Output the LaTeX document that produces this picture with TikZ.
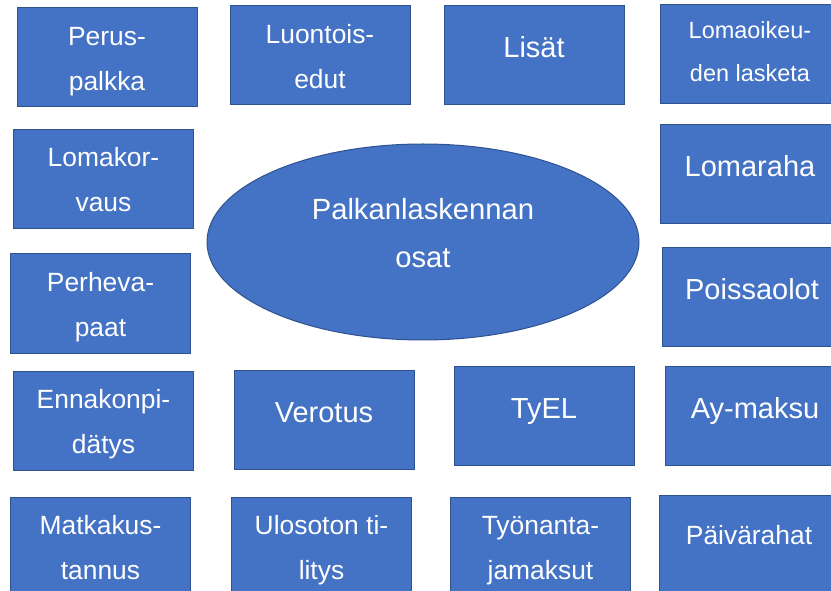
\documentclass[tikz,border=0pt]{standalone}
\usepackage{fontspec}
\setmainfont{Liberation Sans}
\usepackage{xcolor}
\usepackage{tikz}
\usetikzlibrary{shapes.geometric}
\definecolor{partblue}{HTML}{4472C4}
\definecolor{partedge}{HTML}{2F528F}
\tikzstyle{part} = [rectangle, minimum width=135pt, minimum height=74.25pt, align=center, draw=partedge, fill=partblue, line width=0.75pt, text=white]
\tikzstyle{twoline} = [part, font=\fontsize{19.8pt}{33.75pt}\selectfont, text height=50pt, text depth=0.5pt]
\tikzstyle{oneline} = [part, font=\fontsize{21.75pt}{26pt}\selectfont, text height=16pt, text depth=12.25pt]
\tikzstyle{hub} = [ellipse, minimum width=324pt, minimum height=147pt, align=center, draw=partedge, fill=partblue, line width=0.75pt, text=white, font=\fontsize{21.9pt}{36pt}\selectfont, text height=40pt, text depth=1pt]

\begin{document}
\begin{tikzpicture}[x=0.75pt, y=-0.75pt]
    \useasboundingbox (0,0) rectangle (831,591);
    \clip (0,0) rectangle (831,591);

    % top row
    \node[twoline] (perus) at (107,57.5) {Perus-\\palkka};
    \node[twoline] (luontois) at (320,55.5) {Luontois-\\edut};
    \node[oneline] (lisat) at (534,55) {Lisät};
    \node[twoline, font=\fontsize{17.6pt}{32.25pt}\selectfont, text height=40pt, text depth=0.2pt] (lomaoikeus) at (750,54.5) {Lomaoikeu-\\den lasketa};

    % middle
    \node[twoline] (lomakorvaus) at (103.5,179) {Lomakor-\\vaus};
    \node[oneline] (lomaraha) at (750,174.5) {Lomaraha};
    \node[hub] (osat) at (423,242) {Palkanlaskennan\\osat};
    \node[twoline] (perhevapaat) at (100.5,303.5) {Perheva-\\paat};
    \node[oneline] (poissaolot) at (752,297.5) {Poissaolot};

    % lower rows
    \node[twoline] (ennakko) at (103.5,420.5) {Ennakonpi-\\dätys};
    \node[oneline] (verotus) at (324,420) {Verotus};
    \node[oneline] (tyel) at (544,415.5) {TyEL};
    \node[oneline] (aymaksu) at (755,415.5) {Ay-maksu};
    \node[twoline] (matka) at (100.5,546.5) {Matkakus-\\tannus};
    \node[twoline] (ulosotto) at (321.5,546.5) {Ulosoton ti-\\litys};
    \node[twoline] (tyonantaja) at (540.5,546.5) {Työnanta-\\jamaksut};
    \node[oneline, font=\fontsize{19.8pt}{26pt}\selectfont, text height=12pt, text depth=12pt] (paivarahat) at (749,544.5) {Päivärahat};
\end{tikzpicture}
\end{document}
